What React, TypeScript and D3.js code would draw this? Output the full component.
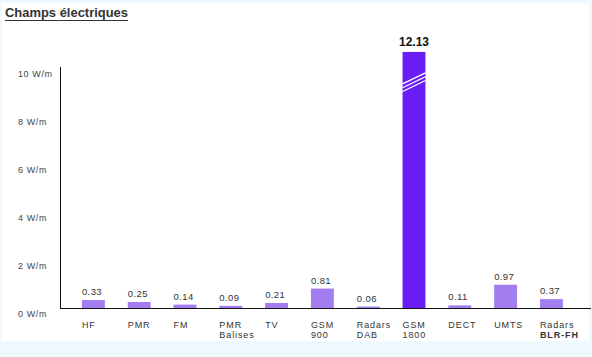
import React from "react";
import * as d3 from "d3";

const categories = [
  ["HF"],
  ["PMR"],
  ["FM"],
  ["PMR", "Balises"],
  ["TV"],
  ["GSM", "900"],
  ["Radars", "DAB"],
  ["GSM", "1800"],
  ["DECT"],
  ["UMTS"],
  ["Radars", "BLR-FH"],
];
const values = [0.33, 0.25, 0.14, 0.09, 0.21, 0.81, 0.06, 12.13, 0.11, 0.97, 0.37];
const valueLabels = ["0.33", "0.25", "0.14", "0.09", "0.21", "0.81", "0.06", "12.13", "0.11", "0.97", "0.37"];
const yTicks = [0, 2, 4, 6, 8, 10];
const tickLabels = ["0 W/m", "2 W/m", "4 W/m", "6 W/m", "8 W/m", "10 W/m"];
const breakCap = 10.67;
const title = "Champs électriques";

const W = 592;
const H = 357;

export default function App() {
  const y = d3.scaleLinear().domain([0, 10]).range([308, 68]);
  const x = d3
    .scaleBand<number>()
    .domain(d3.range(values.length))
    .range([70.5, 574.3])
    .paddingInner(0.5)
    .paddingOuter(0.25);
  const bw = x.bandwidth();
  const font = "'Liberation Sans', Arial, sans-serif";

  return (
    <svg width={W} height={H} style={{ position: "absolute", left: 0, top: 0 }}>
      <rect x={0} y={0} width={W} height={H} fill="#eef9fd" />
      <rect x={2} y={3} width={W - 5} height={338} fill="#ffffff" />
      <text x={5} y={17} fontFamily={font} fontWeight="bold" fontSize={13} fill="#333" textLength={123} lengthAdjust="spacingAndGlyphs">
        {title}
      </text>
      <line x1={5} x2={128} y1={20.5} y2={20.5} stroke="#333" strokeWidth={1} />

      {/* y axis */}
      <line x1={60.5} x2={60.5} y1={67} y2={y(0)} stroke="#111" strokeWidth={1} />
      {yTicks.map((t, i) => (
        <text key={t} x={18} y={y(t) + 9} fontFamily={font} fontSize={9} fill="#444" letterSpacing={0.6}>
          {tickLabels[i]}
        </text>
      ))}

      {/* bars */}
      {values.map((v, i) => {
        const isBreak = v > 10;
        const top = y(isBreak ? breakCap : v);
        const x0 = x(i)!;
        return (
          <g key={i}>
            <rect
              x={x0}
              y={top}
              width={bw}
              height={y(0) - top}
              fill={isBreak ? "#6a1ef5" : "#a27ef1"}
            />
            {isBreak ? (
              <>
                {[0, 1, 2].map((k) => (
                  <line
                    key={k}
                    x1={x0}
                    x2={x0 + bw}
                    y1={top + 32 + k * 3.8}
                    y2={top + 21 + k * 3.8}
                    stroke="#fff"
                    strokeWidth={1.3}
                  />
                ))}
                <text
                  x={x0 + bw / 2}
                  y={top - 6}
                  textAnchor="middle"
                  fontFamily={font}
                  fontWeight="bold"
                  fontSize={12}
                  fill="#111"
                >
                  {valueLabels[i]}
                </text>
              </>
            ) : (
              <text x={x0} y={top - 5} fontFamily={font} fontSize={9.5} fill="#333" letterSpacing={0.4}>
                {valueLabels[i]}
              </text>
            )}
            {categories[i].map((c, j) => (
              <text
                key={j}
                x={x0}
                y={328 + j * 9.5}
                fontFamily={font}
                fontSize={9}
                fill="#333"
                letterSpacing={0.9}
                fontWeight={i === 10 && j === 1 ? "bold" : "normal"}
              >
                {c}
              </text>
            ))}
          </g>
        );
      })}

      {/* baseline */}
      <line x1={60} x2={591} y1={y(0) + 0.5} y2={y(0) + 0.5} stroke="#111" strokeWidth={1} />
    </svg>
  );
}
